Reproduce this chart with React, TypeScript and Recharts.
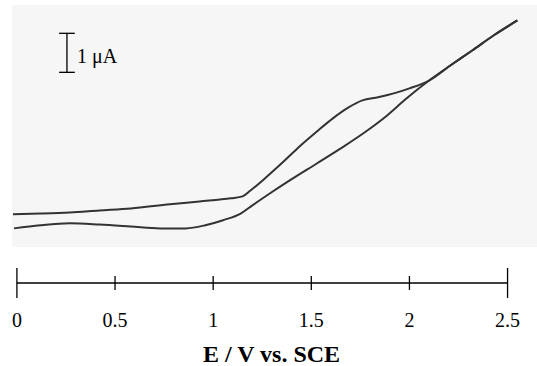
import { LineChart, Line, XAxis, YAxis, ReferenceLine, Label } from "recharts";

// potential (V vs. SCE) and current (µA, relative)
const E_UPPER = [-0.02, 0.12, 0.27, 0.42, 0.58, 0.78, 0.93, 1.09, 1.15, 1.19, 1.27, 1.36, 1.44, 1.53, 1.61, 1.69, 1.76, 1.84, 1.92, 2.0, 2.1, 2.21, 2.32, 2.43, 2.55];
const I_UPPER = [0.36, 0.38, 0.41, 0.46, 0.51, 0.62, 0.69, 0.77, 0.82, 0.97, 1.31, 1.72, 2.1, 2.49, 2.82, 3.1, 3.28, 3.36, 3.46, 3.59, 3.79, 4.18, 4.56, 4.95, 5.33];
const E_LOWER = [-0.015, 0.12, 0.27, 0.42, 0.58, 0.73, 0.86, 0.96, 1.05, 1.14, 1.2, 1.29, 1.39, 1.53, 1.65, 1.78, 1.88, 1.98, 2.1, 2.21, 2.32, 2.43, 2.55];
const I_LOWER = [0.0, 0.08, 0.13, 0.1, 0.05, 0.0, 0.0, 0.08, 0.21, 0.38, 0.59, 0.9, 1.23, 1.67, 2.05, 2.49, 2.87, 3.31, 3.79, 4.18, 4.56, 4.95, 5.33];

const TICKS = [0, 0.5, 1, 1.5, 2, 2.5];
const TICK_LABELS = ["0", "0.5", "1", "1.5", "2", "2.5"];
const X_TITLE = "E / V vs. SCE";

// scale bar: 1 µA
const BAR_E = 0.255;
const BAR_LOW = 4;
const BAR_HIGH = 5;
const BAR_CAP = [0.215, 0.295];
const Y_BASE = -1.4;

const upper = E_UPPER.map((e, i) => ({ e, i: I_UPPER[i] }));
const lower = E_LOWER.map((e, i) => ({ e, i: I_LOWER[i] }));

const SERIF = "'Liberation Serif', 'Times New Roman', serif";

function EnergyTick({ x, y, payload }: any) {
  const idx = TICKS.indexOf(payload.value);
  const isEnd = idx === 0 || idx === TICKS.length - 1;
  const h = isEnd ? 15 : 7;
  return (
    <g>
      <line x1={x} x2={x} y1={y - h} y2={y + h} stroke="#000" strokeWidth={1.3} />
      <text x={x} y={y + 44} textAnchor="middle" fontSize={20} fontFamily={SERIF} fill="#000">
        {TICK_LABELS[idx]}
      </text>
    </g>
  );
}

function AxisTitle({ viewBox }: any) {
  const { x, y, width } = viewBox;
  return (
    <text x={x + width / 2 - 3} y={y + 79} textAnchor="middle" fontSize={24} fontWeight="bold" fontFamily={SERIF} fill="#000">
      {X_TITLE}
    </text>
  );
}

export default function App() {
  return (
    <div style={{ position: "absolute", left: 0, top: 0, width: 537, height: 366, background: "#fff" }}>
      <div style={{ position: "absolute", left: 12, top: 5, width: 525, height: 242, background: "#f6f6f6" }} />
      <LineChart
        width={537}
        height={366}
        margin={{ top: 6, right: 0, left: 12, bottom: 3 }}
        style={{ position: "absolute", left: 0, top: 0 }}
      >
        <XAxis
          type="number"
          dataKey="e"
          domain={[-0.025, 2.65]}
          allowDataOverflow
          ticks={TICKS}
          tick={<EnergyTick />}
          tickSize={0}
          tickMargin={0}
          axisLine={false}
          tickLine={false}
          height={80}
        >
          <Label content={<AxisTitle />} />
        </XAxis>
        <YAxis hide type="number" domain={[Y_BASE, 5.7]} allowDataOverflow />
        <ReferenceLine
          segment={[{ x: 0, y: Y_BASE }, { x: 2.5, y: Y_BASE }]}
          stroke="#000"
          strokeWidth={1.3}
          ifOverflow="visible"
        />
        <ReferenceLine
          segment={[{ x: BAR_E, y: BAR_LOW }, { x: BAR_E, y: BAR_HIGH }]}
          stroke="#000"
          strokeWidth={1.3}
        >
          <Label
            value="1 μA"
            position="right"
            offset={10}
            dy={3}
            style={{ fontFamily: SERIF, fontSize: 20, fill: "#000" }}
          />
        </ReferenceLine>
        <ReferenceLine segment={[{ x: BAR_CAP[0], y: BAR_LOW }, { x: BAR_CAP[1], y: BAR_LOW }]} stroke="#000" strokeWidth={1.3} />
        <ReferenceLine segment={[{ x: BAR_CAP[0], y: BAR_HIGH }, { x: BAR_CAP[1], y: BAR_HIGH }]} stroke="#000" strokeWidth={1.3} />
        <Line data={upper} dataKey="i" type="monotone" stroke="#333" strokeWidth={2} dot={false} isAnimationActive={false} />
        <Line data={lower} dataKey="i" type="monotone" stroke="#333" strokeWidth={2} dot={false} isAnimationActive={false} />
      </LineChart>
    </div>
  );
}
